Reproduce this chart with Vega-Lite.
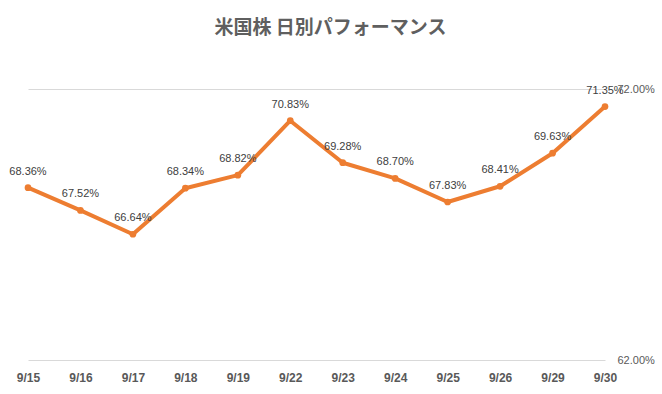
{
  "$schema": "https://vega.github.io/schema/vega-lite/v6.json",
  "autosize": "none",
  "width": 577,
  "height": 271,
  "padding": {"left": 28, "top": 89, "right": 57, "bottom": 34},
  "background": "white",
  "title": {
    "text": "米国株 日別パフォーマンス",
    "font": "Noto Sans CJK JP",
    "fontSize": 19,
    "fontWeight": "bold",
    "color": "#5f5f5f",
    "anchor": "middle",
    "dx": 14,
    "offset": 45
  },
  "data": {
    "values": [
      {"date": "9/15", "value": 0.6836},
      {"date": "9/16", "value": 0.6752},
      {"date": "9/17", "value": 0.6664},
      {"date": "9/18", "value": 0.6834},
      {"date": "9/19", "value": 0.6882},
      {"date": "9/22", "value": 0.7083},
      {"date": "9/23", "value": 0.6928},
      {"date": "9/24", "value": 0.6870},
      {"date": "9/25", "value": 0.6783},
      {"date": "9/26", "value": 0.6841},
      {"date": "9/29", "value": 0.6963},
      {"date": "9/30", "value": 0.7135}
    ]
  },
  "config": {
    "view": {"stroke": null},
    "font": "Liberation Sans"
  },
  "encoding": {
    "x": {
      "field": "date",
      "type": "ordinal",
      "sort": null,
      "scale": {"type": "point", "padding": 0},
      "axis": {
        "title": null,
        "domain": false,
        "ticks": false,
        "grid": false,
        "labelAngle": 0,
        "labelFont": "Liberation Sans",
        "labelFontSize": 12,
        "labelFontWeight": "bold",
        "labelColor": "#595959",
        "labelPadding": 12
      }
    },
    "y": {
      "field": "value",
      "type": "quantitative",
      "scale": {"domain": [0.62, 0.72], "zero": false, "nice": false},
      "axis": {
        "orient": "right",
        "title": null,
        "values": [0.62, 0.72],
        "format": ".2%",
        "domain": false,
        "ticks": false,
        "grid": true,
        "gridColor": "#d9d9d9",
        "gridWidth": 1,
        "labelFont": "Liberation Sans",
        "labelFontSize": 11,
        "labelColor": "#595959",
        "labelPadding": 12
      }
    }
  },
  "layer": [
    {
      "mark": {"type": "line", "color": "#ED7D31", "strokeWidth": 4, "strokeJoin": "round", "strokeCap": "round"}
    },
    {
      "mark": {"type": "circle", "color": "#ED7D31", "opacity": 1, "size": 45}
    },
    {
      "mark": {"type": "text", "dy": -16, "fontSize": 11, "color": "#404040", "font": "Liberation Sans"},
      "encoding": {
        "text": {"field": "value", "type": "quantitative", "format": ".2%"}
      }
    }
  ]
}
